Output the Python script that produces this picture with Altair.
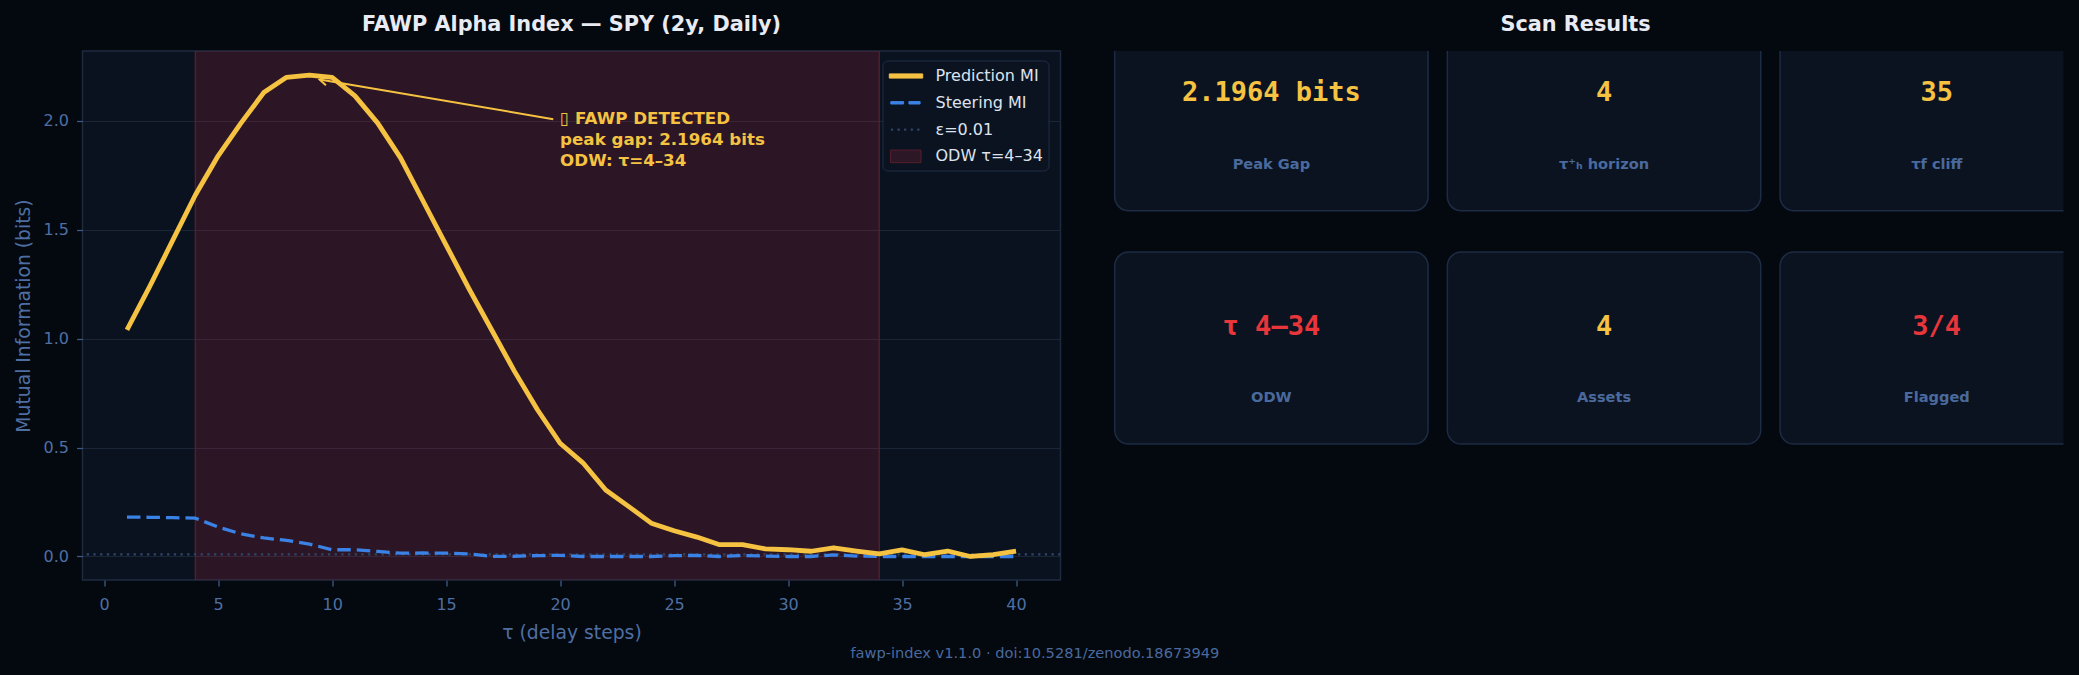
import altair as alt
import pandas as pd

# ---------------- data ----------------
tau = list(range(1, 41))
prediction_mi = [1.04, 1.24, 1.45, 1.66, 1.84, 1.99, 2.13, 2.20, 2.21, 2.20,
                 2.115, 1.99, 1.83, 1.63, 1.43, 1.23, 1.04, 0.85, 0.675, 0.52,
                 0.43, 0.305, 0.23, 0.153, 0.118, 0.089, 0.054, 0.054, 0.035, 0.031,
                 0.024, 0.040, 0.025, 0.012, 0.030, 0.008, 0.025, 0.0, 0.008, 0.025]
steering_mi = [0.181, 0.180, 0.178, 0.176, 0.135, 0.104, 0.085, 0.074, 0.057, 0.031,
               0.031, 0.023, 0.015, 0.016, 0.015, 0.012, 0.0, 0.001, 0.004, 0.005,
               0.0, 0.0, 0.0, 0.0, 0.004, 0.005, 0.0, 0.004, 0.002, 0.0,
               0.0, 0.007, 0.002, 0.0, 0.0, 0.0, 0.0, 0.0, 0.0, 0.0]
epsilon = 0.01
odw_start = 4
odw_end = 34
annot_lines = ["▯ FAWP DETECTED", "peak gap: 2.1964 bits", "ODW: τ=4–34"]
annot_x = 20.0
annot_y = 2.0
arrow_tail = [19.7, 2.008]
arrow_tip = [9.45, 2.19]
legend_items = ["Prediction MI", "Steering MI", "ε=0.01", "ODW τ=4–34"]
x_ticks = [0, 5, 10, 15, 20, 25, 30, 35, 40]
y_ticks = [0.0, 0.5, 1.0, 1.5, 2.0]

card_values = ["2.1964 bits", "4", "35", "τ 4–34", "4", "3/4"]
card_labels = ["Peak Gap", "τ⁺ₕ horizon", "τf cliff", "ODW", "Assets", "Flagged"]
card_kind = ["ok", "ok", "ok", "alert", "ok", "alert"]
card_cols = [0, 1, 2, 0, 1, 2]
card_rows = [0, 0, 0, 1, 1, 1]

title_left = "FAWP Alpha Index — SPY (2y, Daily)"
title_right = "Scan Results"
footer = "fawp-index v1.1.0 · doi:10.5281/zenodo.18673949"

# ---------------- styles ----------------
FONT = "DejaVu Sans"
BG = "#04080f"
PANEL = "#0a1220"
FRAME = "#1e2b3f"
GRID = "#1a2536"
TICK = "#3d5a88"
LAB = "#4f6fa3"
YELLOW = "#f5c242"
BLUE = "#3b82e6"
EPS = "#2f4468"
RED = "#e8363b"
ODW_FILL = "#ff3347"
ODW_EDGE = "#5a1e2c"
CARD_FILL = "#0b1321"
CARD_EDGE = "#1d2b44"
CARD_LAB = "#4a6a9e"

X_DOMAIN = [-0.95, 41.95]
Y_DOMAIN = [-0.108, 2.321]
xs = alt.Scale(domain=X_DOMAIN, nice=False, zero=False)
ys = alt.Scale(domain=Y_DOMAIN, nice=False, zero=False)

x_axis = alt.Axis(values=x_ticks, title="τ (delay steps)", grid=False, domain=False,
                  tickSize=6, tickWidth=1.3, tickColor=TICK, labelColor=LAB,
                  labelFont=FONT, labelFontSize=16, labelPadding=10,
                  titleColor=LAB, titleFont=FONT, titleFontSize=18.75,
                  titleFontWeight="normal", titlePadding=11)
y_axis = alt.Axis(values=y_ticks, format=".1f", title="Mutual Information (bits)",
                  grid=True, gridColor=GRID, gridWidth=1, domain=False,
                  tickSize=6, tickWidth=1.3, tickColor=TICK, labelColor=LAB,
                  labelFont=FONT, labelFontSize=16, labelPadding=8,
                  titleColor=LAB, titleFont=FONT, titleFontSize=18.75,
                  titleFontWeight="normal", titlePadding=10)

mi = pd.DataFrame({"tau": tau, "pred": prediction_mi, "steer": steering_mi})

odw_df = pd.DataFrame({"start": [odw_start], "end": [odw_end]})
odw = alt.Chart(odw_df).mark_rect(color=ODW_FILL, opacity=0.14).encode(
    x=alt.X("start:Q", scale=xs, axis=x_axis), x2="end:Q")
odw_edges = alt.Chart(pd.DataFrame({"edge": [odw_start, odw_end]})).mark_rule(
    color=ODW_EDGE, strokeWidth=1.3).encode(x=alt.X("edge:Q", scale=xs, axis=x_axis))

eps_rule = alt.Chart(pd.DataFrame({"eps": [epsilon]})).mark_rule(
    color=EPS, strokeWidth=2.2, strokeDash=[2.3, 4.4]).encode(
    y=alt.Y("eps:Q", scale=ys, axis=y_axis))

steer_line = alt.Chart(mi).mark_line(color=BLUE, strokeWidth=3.3, strokeDash=[13.5, 6]).encode(
    x=alt.X("tau:Q", scale=xs, axis=x_axis), y=alt.Y("steer:Q", scale=ys, axis=y_axis))
pred_line = alt.Chart(mi).mark_line(color=YELLOW, strokeWidth=4.8, strokeJoin="round").encode(
    x=alt.X("tau:Q", scale=xs, axis=x_axis), y=alt.Y("pred:Q", scale=ys, axis=y_axis))

arrow_df = pd.DataFrame({"x": [arrow_tail[0]], "y": [arrow_tail[1]],
                         "x2": [arrow_tip[0]], "y2": [arrow_tip[1]]})
arrow = alt.Chart(arrow_df).mark_rule(color=YELLOW, strokeWidth=2).encode(
    x=alt.X("x:Q", scale=xs, axis=x_axis), y=alt.Y("y:Q", scale=ys, axis=y_axis),
    x2="x2:Q", y2="y2:Q")
head = alt.Chart(arrow_df).mark_point(
    shape="M-1.2,-0.75L0,0L-1.2,0.75", size=144, angle=189.6, filled=False,
    stroke=YELLOW, strokeWidth=2, opacity=1).encode(
    x=alt.X("x2:Q", scale=xs, axis=x_axis), y=alt.Y("y2:Q", scale=ys, axis=y_axis))

annot = alt.Chart(pd.DataFrame({"x": [annot_x], "y": [annot_y]})).mark_text(
    text=annot_lines, align="left", baseline="alphabetic", dy=3, font=FONT,
    fontSize=16.7, fontWeight="bold", color=YELLOW, lineHeight=20.8).encode(
    x=alt.X("x:Q", scale=xs, axis=x_axis), y=alt.Y("y:Q", scale=ys, axis=y_axis))

legend_shapes = [
    "M-1.67,-0.21H1.67V0.21H-1.67Z",
    "M-1.52,-0.12H-0.24V0.12H-1.52Z M0.29,-0.12H1.41V0.12H0.29Z",
    "M-1.47,-0.07H-1.33V0.07H-1.47Z M-0.81,-0.07H-0.67V0.07H-0.81Z M-0.15,-0.07H-0.01V0.07H-0.15Z M0.51,-0.07H0.65V0.07H0.51Z M1.17,-0.07H1.31V0.07H1.17Z",
    "M-1.54,-0.63H1.5V0.63H-1.54Z",
]
legend_fill = [YELLOW, BLUE, EPS, "#2c1726"]
legend_stroke = [YELLOW, BLUE, EPS, ODW_EDGE]
leg = alt.Legend(title=None, orient="none", legendX=800, legendY=9.5,
                 fillColor="#0b1321", strokeColor="#1e2c42", cornerRadius=5, padding=5,
                 labelFont=FONT, labelFontSize=16, labelColor="#dde3ee",
                 symbolSize=400, symbolStrokeWidth=1, rowPadding=7.8,
                 labelOffset=19, symbolOffset=8)
legend_layer = alt.Chart(pd.DataFrame({"series": legend_items})).transform_filter(
    "false").mark_point(filled=True, opacity=1, size=400).encode(
    shape=alt.Shape("series:N", scale=alt.Scale(domain=legend_items, range=legend_shapes), legend=leg),
    fill=alt.Fill("series:N", scale=alt.Scale(domain=legend_items, range=legend_fill), legend=leg),
    stroke=alt.Stroke("series:N", scale=alt.Scale(domain=legend_items, range=legend_stroke), legend=leg),
)

left = alt.layer(odw, odw_edges, eps_rule, steer_line, pred_line, arrow, head, annot,
                 legend_layer).properties(
    width=978, height=529, title=title_left,
    view=alt.ViewBackground(fill=PANEL, stroke=FRAME, strokeWidth=1.5))

# ---------------- right panel: cards ----------------
cards = pd.DataFrame({"col": card_cols, "row": card_rows, "value": card_values,
                      "label": card_labels, "kind": card_kind})
cx = alt.Scale(domain=[-0.5527, 2.381], nice=False, zero=False)
cy = alt.Scale(domain=[-0.273, 1.994], nice=False, zero=False, reverse=True)

rects = alt.Chart(cards).transform_calculate(
    x0="datum.col - 0.471", x1="datum.col + 0.471",
    y0="datum.row - 0.4115", y1="datum.row + 0.4115").mark_rect(
    fill=CARD_FILL, stroke=CARD_EDGE, strokeWidth=1.5, cornerRadius=14, clip=True).encode(
    x=alt.X("x0:Q", scale=cx, axis=None), x2="x1:Q",
    y=alt.Y("y0:Q", scale=cy, axis=None), y2="y1:Q")
vals = alt.Chart(cards).mark_text(font="DejaVu Sans Mono", fontSize=27, fontWeight="bold",
                                  baseline="alphabetic", dy=-13.5).encode(
    x=alt.X("col:Q", scale=cx, axis=None), y=alt.Y("row:Q", scale=cy, axis=None),
    text="value:N",
    color=alt.Color("kind:N", scale=alt.Scale(domain=["ok", "alert"], range=[YELLOW, RED]),
                    legend=None))
labs = alt.Chart(cards).mark_text(font=FONT, fontSize=14.6, fontWeight="bold",
                                  color=CARD_LAB, baseline="alphabetic", dy=54).encode(
    x=alt.X("col:Q", scale=cx, axis=None), y=alt.Y("row:Q", scale=cy, axis=None),
    text="label:N")

right = alt.layer(rects, vals, labs).properties(
    width=976, height=529, title=title_right,
    view=alt.ViewBackground(stroke="transparent", strokeWidth=0))

chart = alt.hconcat(left, right, spacing=27, bounds="flush").properties(
    title=alt.TitleParams(footer, orient="bottom", anchor="middle", frame="bounds",
                          fontSize=14.6, fontWeight="normal", color=CARD_LAB,
                          baseline="top", offset=3, dx=-3.5),
    background=BG,
    padding={"left": 82.5, "top": 51, "right": 1996.5, "bottom": 624},
    autosize=alt.AutoSizeParams(type="none"),
).configure(font=FONT).configure_title(
    font=FONT, fontSize=20.8, fontWeight="bold", color="#e8ebf3", anchor="middle",
    frame="group", baseline="alphabetic", offset=15)

chart.save("out.html", embed_options={"renderer": "svg", "actions": False})
